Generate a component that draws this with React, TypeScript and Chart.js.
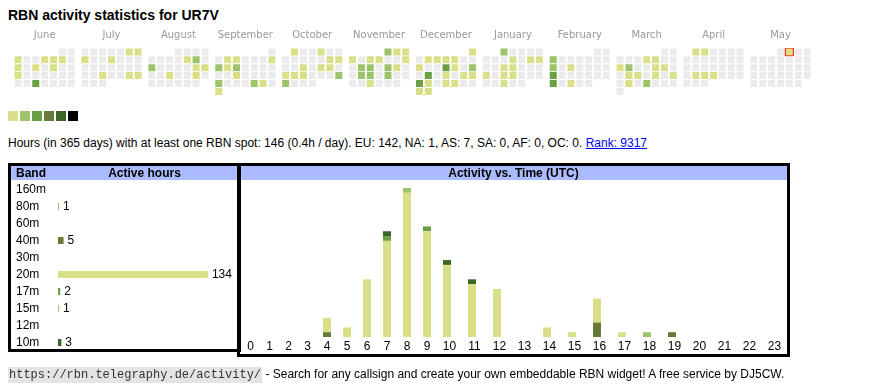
import React, { useEffect, useRef } from "react";
import { Chart, registerables } from "chart.js";

Chart.register(...registerables);

const SANS = "'Liberation Sans', Arial, Helvetica, sans-serif";

// ---------- calendar data ----------
const START_YEAR = 2024;
const START_MONTH = 5; // June (0-based)
const MONTH_NAMES = ["June", "July", "August", "September", "October", "November", "December", "January", "February", "March", "April", "May"];
const TODAY = "2025-05-02";
const LEVEL_COLORS = ["#ebebeb", "#dae08a", "#9dc36b", "#6a9f45", "#687a3a", "#3b6626", "#000000"];

const ACTIVE_DATES = [
  "2024-06-03", "2024-06-06", "2024-06-07", "2024-06-08", "2024-06-10", "2024-06-12", "2024-06-14", "2024-06-17", "2024-06-26",
  "2024-07-06", "2024-07-07", "2024-07-08", "2024-07-11", "2024-07-24", "2024-07-27", "2024-07-28",
  "2024-08-09", "2024-08-10", "2024-08-12", "2024-08-17", "2024-08-18", "2024-08-21", "2024-08-24",
  "2024-09-03", "2024-09-04", "2024-09-08", "2024-09-09", "2024-09-10", "2024-09-11", "2024-09-18", "2024-09-23", "2024-09-27", "2024-09-28", "2024-09-30",
  "2024-10-01", "2024-10-04", "2024-10-12", "2024-10-13", "2024-10-16", "2024-10-18", "2024-10-19", "2024-10-21", "2024-10-22", "2024-10-23", "2024-10-27", "2024-10-28",
  "2024-11-01", "2024-11-02", "2024-11-03", "2024-11-04", "2024-11-06", "2024-11-07", "2024-11-10", "2024-11-12", "2024-11-13", "2024-11-15", "2024-11-16", "2024-11-19", "2024-11-20", "2024-11-22", "2024-11-27",
  "2024-12-01", "2024-12-03", "2024-12-04", "2024-12-05", "2024-12-06", "2024-12-09", "2024-12-12", "2024-12-13", "2024-12-15", "2024-12-17", "2024-12-19", "2024-12-21", "2024-12-22", "2024-12-23", "2024-12-24", "2024-12-26", "2024-12-27", "2024-12-30", "2024-12-31",
  "2025-01-01", "2025-01-09", "2025-01-11", "2025-01-12", "2025-01-15", "2025-01-16", "2025-01-20", "2025-01-22", "2025-01-23", "2025-01-29",
  "2025-02-03", "2025-02-10", "2025-02-12", "2025-02-17", "2025-02-24", "2025-02-26",
  "2025-03-06", "2025-03-07", "2025-03-10", "2025-03-11", "2025-03-14", "2025-03-15", "2025-03-18", "2025-03-19", "2025-03-21", "2025-03-23", "2025-03-25", "2025-03-27",
  "2025-04-01", "2025-04-02", "2025-04-22", "2025-04-23", "2025-04-24",
  "2025-05-02",
];
const ACTIVE_LEVELS = [
  1, 1, 1, 1, 1, 1, 1, 1, 3,
  1, 1, 1, 1, 1, 1, 1,
  1, 2, 2, 1, 1, 1, 1,
  1, 1, 1, 2, 1, 2, 1, 2, 2, 1, 1,
  1, 1, 1, 1, 1, 1, 1, 1, 1, 1, 2, 2,
  2, 1, 1, 1, 1, 1, 1, 2, 2, 2, 1, 2, 2, 2, 1,
  1, 1, 1, 1, 1, 1, 3, 1, 2, 3, 1, 1, 1, 3, 1, 1, 1, 1, 1,
  2, 1, 1, 1, 1, 1, 1, 1, 1, 1,
  2, 2, 1, 3, 3, 1,
  1, 1, 1, 2, 1, 1, 1, 1, 1, 1, 1, 2,
  1, 1, 1, 1, 1,
  1,
];

// ---------- band data ----------
const BANDS = ["160m", "80m", "60m", "40m", "30m", "20m", "17m", "15m", "12m", "10m"];
const BAND_HOURS = [0, 1, 0, 5, 0, 134, 2, 1, 0, 3];
const BAND_COLORS = ["#c8d2a0", "#9dc36b", "#b0c080", "#687a3a", "#8aa060", "#dae08a", "#6a9f45", "#9dc36b", "#507a30", "#3b6626"];

// ---------- activity vs time data ----------
const HOURS = ["0", "1", "2", "3", "4", "5", "6", "7", "8", "9", "10", "11", "12", "13", "14", "15", "16", "17", "18", "19", "20", "21", "22", "23"];
const H_80M = [0, 0, 0, 0, 0, 0, 0, 0, 0, 0, 0, 0, 0, 0, 0, 0, 0, 0, 1, 0, 0, 0, 0, 0];
const H_40M = [0, 0, 0, 0, 1, 0, 0, 0, 0, 0, 0, 0, 0, 0, 0, 0, 3, 0, 0, 1, 0, 0, 0, 0];
const H_20M = [0, 0, 0, 0, 3, 2, 12, 20, 30, 22, 15, 11, 10, 0, 2, 1, 5, 1, 0, 0, 0, 0, 0, 0];
const H_17M = [0, 0, 0, 0, 0, 0, 0, 1, 0, 1, 0, 0, 0, 0, 0, 0, 0, 0, 0, 0, 0, 0, 0, 0];
const H_15M = [0, 0, 0, 0, 0, 0, 0, 0, 1, 0, 0, 0, 0, 0, 0, 0, 0, 0, 0, 0, 0, 0, 0, 0];
const H_10M = [0, 0, 0, 0, 0, 0, 0, 1, 0, 0, 1, 1, 0, 0, 0, 0, 0, 0, 0, 0, 0, 0, 0, 0];

const pad2 = (n: number) => (n < 10 ? "0" + n : "" + n);
const MONTH_SPAN = 68 / 9; // 7 week-day columns plus a gap, in column units

function buildCells() {
  const cells: any[] = [];
  for (let m = 0; m < 12; m++) {
    const year = START_YEAR + Math.floor((START_MONTH + m) / 12);
    const month = (START_MONTH + m) % 12;
    const first = new Date(Date.UTC(year, month, 1));
    const offset = (first.getUTCDay() + 6) % 7;
    const days = new Date(Date.UTC(year, month + 1, 0)).getUTCDate();
    for (let d = 1; d <= days; d++) {
      const idx = offset + d - 1;
      const key = `${year}-${pad2(month + 1)}-${pad2(d)}`;
      const k = ACTIVE_DATES.indexOf(key);
      cells.push({
        x: m * MONTH_SPAN + (idx % 7),
        y: Math.floor(idx / 7),
        l: k >= 0 ? ACTIVE_LEVELS[k] : 0,
        today: key === TODAY,
      });
    }
  }
  return cells;
}

function useChart(factory: (c: HTMLCanvasElement) => Chart) {
  const ref = useRef<HTMLCanvasElement | null>(null);
  useEffect(() => {
    if (!ref.current) return;
    const chart = factory(ref.current);
    return () => chart.destroy();
  }, []);
  return ref;
}

const baseOpts = {
  animation: false as const,
  responsive: false,
  devicePixelRatio: 1,
  events: [] as any[],
};

function Heatmap() {
  const ref = useChart((canvas) =>
    new Chart(canvas, {
      type: "scatter",
      data: {
        datasets: [
          {
            data: buildCells(),
            pointStyle: "rect",
            pointRadius: (c: any) => (c.raw && c.raw.today ? 8 : 7) * Math.SQRT1_2,
            pointBackgroundColor: (c: any) => LEVEL_COLORS[c.raw ? c.raw.l : 0],
            pointBorderColor: (c: any) => (c.raw && c.raw.today ? "#ff0000" : "rgba(0,0,0,0)"),
            pointBorderWidth: (c: any) => (c.raw && c.raw.today ? 1 : 0),
          } as any,
        ],
      },
      options: {
        ...baseOpts,
        layout: { padding: 0 },
        plugins: { legend: { display: false }, tooltip: { enabled: false } },
        scales: {
          x: {
            type: "linear",
            position: "top",
            min: -0.5,
            max: 90.5,
            offset: false,
            grid: { display: false, drawTicks: false },
            border: { display: false },
            afterBuildTicks: (s: any) => {
              s.ticks = MONTH_NAMES.map((_, m) => ({ value: m * MONTH_SPAN + 3 }));
            },
            afterFit: (s: any) => {
              s.height = 24;
            },
            ticks: {
              autoSkip: false,
              maxRotation: 0,
              minRotation: 0,
              padding: 7,
              color: "#999999",
              font: { family: "'DejaVu Sans', Verdana, sans-serif", size: 10 },
              callback: (_v: any, i: number) => MONTH_NAMES[i],
            },
          },
          y: { type: "linear", display: false, reverse: true, min: -0.5, max: 5.5 },
        },
      } as any,
    })
  );
  return <canvas ref={ref} width={819} height={78} style={{ position: "absolute", left: 7, top: 24, width: 819, height: 78 }} />;
}

const valueLabels = {
  id: "valueLabels",
  afterDatasetsDraw(chart: any) {
    const ctx = chart.ctx;
    const meta = chart.getDatasetMeta(0);
    ctx.save();
    ctx.font = `12px ${SANS}`;
    ctx.fillStyle = "#000";
    ctx.textAlign = "left";
    ctx.textBaseline = "middle";
    meta.data.forEach((bar: any, i: number) => {
      const v = BAND_HOURS[i];
      if (v > 0) ctx.fillText(String(v), bar.x + 4, bar.y);
    });
    ctx.restore();
  },
};

function BandChart() {
  const ref = useChart((canvas) =>
    new Chart(canvas, {
      type: "bar",
      data: {
        labels: BANDS,
        datasets: [{ data: BAND_HOURS, backgroundColor: BAND_COLORS, barThickness: 7, borderWidth: 0, inflateAmount: 0 }],
      },
      options: {
        ...baseOpts,
        indexAxis: "y",
        layout: { padding: { left: 5, right: 0, top: 0, bottom: 0 } },
        plugins: { legend: { display: false }, tooltip: { enabled: false } },
        scales: {
          x: { display: false, min: 0, max: 160 },
          y: {
            grid: { display: false, drawTicks: false },
            border: { display: false },
            afterFit: (s: any) => {
              s.width = 42;
            },
            ticks: { crossAlign: "far", padding: 0, autoSkip: false, color: "#000", font: { family: SANS, size: 12, lineHeight: "14px" } },
          },
        },
      } as any,
      plugins: [valueLabels],
    })
  );
  // the axis adds half a label height above and below the rows
  return <canvas ref={ref} width={226} height={184} style={{ position: "absolute", left: 11, top: 174, width: 226, height: 184 }} />;
}

function ActivityChart() {
  const totals = HOURS.map((_, i) => H_80M[i] + H_40M[i] + H_20M[i] + H_17M[i] + H_15M[i] + H_10M[i]);
  // table-like cell widths: wider for two-digit labels, a bit narrower for empty single-digit cells
  const widths = HOURS.map((h, i) => (h.length > 1 ? 25 : totals[i] > 0 ? 20 : 19));
  const starts: number[] = [];
  widths.reduce((acc, w) => {
    starts.push(acc);
    return acc + w;
  }, 0);
  const barX = starts.map((s) => s + 10);
  const labelX = starts.map((s, i) => s + widths[i] / 2);
  const series: [string, number[], string][] = [
    ["80m", H_80M, BAND_COLORS[1]],
    ["40m", H_40M, BAND_COLORS[3]],
    ["20m", H_20M, BAND_COLORS[5]],
    ["17m", H_17M, BAND_COLORS[6]],
    ["15m", H_15M, BAND_COLORS[7]],
    ["10m", H_10M, BAND_COLORS[9]],
  ];
  const ref = useChart((canvas) =>
    new Chart(canvas, {
      type: "bar",
      data: {
        datasets: series.map(([label, vals, color]) => ({
          label,
          data: vals.map((v, i) => ({ x: barX[i], y: v > 0 ? v : null })),
          backgroundColor: color,
          barThickness: 8,
          borderWidth: 0,
          inflateAmount: 0,
        })),
      },
      options: {
        ...baseOpts,
        layout: { padding: { left: 0, right: 0, top: 7, bottom: 0 } },
        plugins: { legend: { display: false }, tooltip: { enabled: false } },
        scales: {
          x: {
            type: "linear",
            min: -1,
            max: 546,
            offset: false,
            stacked: true,
            grid: { display: false, drawTicks: false },
            border: { display: false },
            afterBuildTicks: (s: any) => {
              s.ticks = labelX.map((v) => ({ value: v }));
            },
            afterFit: (s: any) => {
              s.height = 17;
            },
            ticks: {
              autoSkip: false,
              maxRotation: 0,
              minRotation: 0,
              padding: 2,
              color: "#000",
              font: { family: SANS, size: 12 },
              callback: (_v: any, i: number) => HOURS[i],
            },
          },
          y: { display: false, stacked: true, min: 0, max: 31 },
        },
      } as any,
    })
  );
  return <canvas ref={ref} width={547} height={173} style={{ position: "absolute", left: 240, top: 181, width: 547, height: 173 }} />;
}

const abs = (left: number, top: number, extra: React.CSSProperties = {}): React.CSSProperties => ({
  position: "absolute",
  left,
  top,
  ...extra,
});

export default function App() {
  return (
    <div style={{ fontFamily: SANS, color: "#000", background: "#fff", width: 870, height: 390, position: "absolute", left: 0, top: 0 }}>
      <div style={abs(8, 7, { font: `bold 14px ${SANS}`, lineHeight: "16px", whiteSpace: "nowrap" })}>RBN activity statistics for UR7V</div>

      <Heatmap />
      {LEVEL_COLORS.slice(1).map((c, i) => (
        <div key={i} style={abs(8 + 12 * i, 111, { width: 10, height: 10, background: c })} />
      ))}

      <div style={abs(8, 135, { fontSize: 12, lineHeight: "16px", whiteSpace: "nowrap" })}>
        Hours (in 365 days) with at least one RBN spot: 146 (0.4h / day). EU: 142, NA: 1, AS: 7, SA: 0, AF: 0, OC: 0.{" "}
        <span style={{ color: "#0000ee", textDecoration: "underline" }}>Rank: 9317</span>
      </div>

      <BandChart />
      <ActivityChart />

      {/* headers */}
      <div style={abs(11, 166, { width: 227, height: 14, background: "#aabbff" })} />
      <div style={abs(240, 166, { width: 547, height: 14, background: "#aabbff" })} />
      <div style={abs(16, 166, { font: `bold 12px ${SANS}`, lineHeight: "14px" })}>Band</div>
      <div style={abs(144.5, 166, { font: `bold 12px ${SANS}`, lineHeight: "14px", transform: "translateX(-50%)", whiteSpace: "nowrap" })}>Active hours</div>
      <div style={abs(513.5, 166, { font: `bold 12px ${SANS}`, lineHeight: "14px", transform: "translateX(-50%)", whiteSpace: "nowrap" })}>Activity vs. Time (UTC)</div>

      {/* box borders */}
      <div style={abs(8, 163, { width: 233, height: 189, border: "3px solid #000", boxSizing: "border-box" })} />
      <div style={abs(237, 163, { width: 553, height: 194, border: "3px solid #000", boxSizing: "border-box" })} />

      <div style={abs(8, 366, { fontSize: 12, lineHeight: "16px", whiteSpace: "nowrap" })}>
        <span style={{ fontFamily: "'Liberation Mono', 'Courier New', monospace", fontSize: 12, background: "#e4e4e4", color: "#333", padding: "1px 1px" }}>
          https://rbn.telegraphy.de/activity/
        </span>{" "}
        - Search for any callsign and create your own embeddable RBN widget! A free service by DJ5CW.
      </div>
    </div>
  );
}
